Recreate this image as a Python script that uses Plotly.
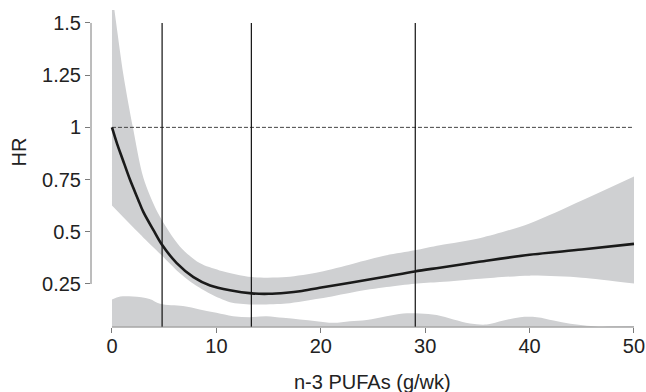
import plotly.graph_objects as go

# ---- data ----
curve_x = [0, 0.5, 1, 1.72, 2.5, 3, 4, 4.76, 6.2, 7.8, 9.4, 11.3, 13.4, 15, 16.7, 18, 19.9, 23.1, 26.3, 29, 31.4, 35, 40, 45, 50]
curve_y = [1.0, 0.92, 0.85, 0.75, 0.655, 0.595, 0.505, 0.44, 0.35, 0.283, 0.243, 0.22, 0.205, 0.203, 0.208, 0.215, 0.232, 0.258, 0.286, 0.31, 0.328, 0.355, 0.39, 0.415, 0.442]

upper_x = [0, 0.4, 1.1, 2.0, 3.0, 4.4, 6.5, 8.4, 10.3, 13.4, 16.7, 19.9, 23.1, 26.3, 29, 31.4, 35.3, 40, 45, 50]
upper_y = [1.65, 1.5, 1.25, 1.0, 0.76, 0.59, 0.43, 0.35, 0.315, 0.283, 0.283, 0.307, 0.347, 0.387, 0.411, 0.435, 0.47, 0.54, 0.65, 0.765]

lower_x = [0, 2, 3.6, 4.76, 6.2, 7.8, 9.4, 11.3, 13.4, 16.7, 19.9, 23.1, 26.3, 29, 31.4, 35.3, 40, 45, 50]
lower_y = [0.626, 0.523, 0.443, 0.387, 0.315, 0.251, 0.203, 0.163, 0.152, 0.156, 0.18, 0.211, 0.235, 0.251, 0.259, 0.275, 0.29, 0.28, 0.252]

dens_x = [0, 0.8, 2.0, 3.6, 4.6, 6.8, 8.4, 10.0, 11.6, 13.2, 14.8, 16.4, 18.0, 19.6, 21.2, 22.8, 24.4, 26.3, 27.9, 29.5, 31.1, 32.7, 34.3, 35.9, 37.5, 39.1, 40.7, 42.3, 43.9, 45.5, 47.0, 50]
dens_y = [0.176, 0.19, 0.19, 0.178, 0.155, 0.144, 0.128, 0.112, 0.096, 0.091, 0.096, 0.088, 0.080, 0.072, 0.064, 0.072, 0.078, 0.096, 0.109, 0.109, 0.101, 0.080, 0.061, 0.056, 0.075, 0.091, 0.091, 0.075, 0.059, 0.05, 0.046, 0.044]
dens_base = 0.046

vlines_x = [4.8, 13.35, 29.05]
ref_hr = 1.0

x_ticks = [0, 10, 20, 30, 40, 50]
y_ticks = [0.25, 0.5, 0.75, 1.0, 1.25, 1.5]
y_tick_text = ["0.25", "0.5", "0.75", "1", "1.25", "1.5"]

x_range = [-2.01, 51.15]
y_range = [0.044, 1.562]

band_color = "#cfd0d2"
font_family = "Liberation Sans, Arial, sans-serif"
txt_color = "#222222"
axis_color = "#7a7a7a"

fig = go.Figure()

# confidence band: lower edge, then upper edge filled to it
fig.add_trace(go.Scatter(x=lower_x, y=lower_y, mode="lines",
                         line=dict(width=0, shape="spline", smoothing=0.8),
                         showlegend=False, hoverinfo="skip"))
fig.add_trace(go.Scatter(x=upper_x, y=upper_y, mode="lines", fill="tonexty",
                         fillcolor=band_color, line=dict(width=0, shape="spline", smoothing=0.8),
                         showlegend=False, hoverinfo="skip"))

# density at bottom
fig.add_trace(go.Scatter(x=dens_x, y=[dens_base] * len(dens_x), mode="lines",
                         line=dict(width=0), showlegend=False, hoverinfo="skip"))
fig.add_trace(go.Scatter(x=dens_x, y=dens_y, mode="lines", fill="tonexty",
                         fillcolor=band_color, line=dict(width=0, shape="spline"),
                         showlegend=False, hoverinfo="skip"))

# reference dashed line at HR = 1
fig.add_trace(go.Scatter(x=[x_ticks[0], x_ticks[-1]], y=[ref_hr, ref_hr], mode="lines",
                         line=dict(color="#444444", width=1, dash="4px,2px"),
                         showlegend=False, hoverinfo="skip"))

# vertical lines
for vx in vlines_x:
    fig.add_trace(go.Scatter(x=[vx, vx], y=[y_range[0], y_ticks[-1]], mode="lines",
                             line=dict(color="#111111", width=1.2),
                             showlegend=False, hoverinfo="skip"))

# main curve
fig.add_trace(go.Scatter(x=curve_x, y=curve_y, mode="lines",
                         line=dict(color="#1a1a1a", width=2.6, shape="spline", smoothing=0.9),
                         showlegend=False, hoverinfo="skip"))

# detached axis spines (span tick range only)
fig.add_shape(type="line", xref="paper", yref="y", x0=0, x1=0,
              y0=min(y_ticks), y1=max(y_ticks), line=dict(color=axis_color, width=1))
fig.add_shape(type="line", xref="x", yref="paper", x0=min(x_ticks), x1=max(x_ticks),
              y0=0, y1=0, line=dict(color=axis_color, width=1))

fig.update_xaxes(range=x_range, tickvals=x_ticks, ticks="outside", ticklen=5,
                 tickcolor=axis_color, showline=False, showgrid=False, zeroline=False,
                 ticklabelstandoff=-4,
                 tickfont=dict(family=font_family, size=20, color=txt_color))
fig.update_yaxes(range=y_range, tickvals=y_ticks, ticktext=y_tick_text, ticks="outside",
                 ticklen=5, tickcolor=axis_color, showline=False, showgrid=False,
                 zeroline=False, tickfont=dict(family=font_family, size=20, color=txt_color))

fig.add_annotation(text="n-3 PUFAs (g/wk)", xref="paper", yref="paper", x=0.508, y=-0.172,
                   xanchor="center", yanchor="middle", showarrow=False,
                   font=dict(family=font_family, size=20, color=txt_color))
fig.add_annotation(text="HR", xref="paper", yref="paper", x=-0.129, y=0.552, textangle=-90,
                   xanchor="center", yanchor="middle", showarrow=False,
                   font=dict(family=font_family, size=20, color=txt_color))

fig.update_layout(width=646, height=392, margin=dict(l=91, r=0, t=10, b=65),
                  plot_bgcolor="white", paper_bgcolor="white")

fig.write_html("out.html")
